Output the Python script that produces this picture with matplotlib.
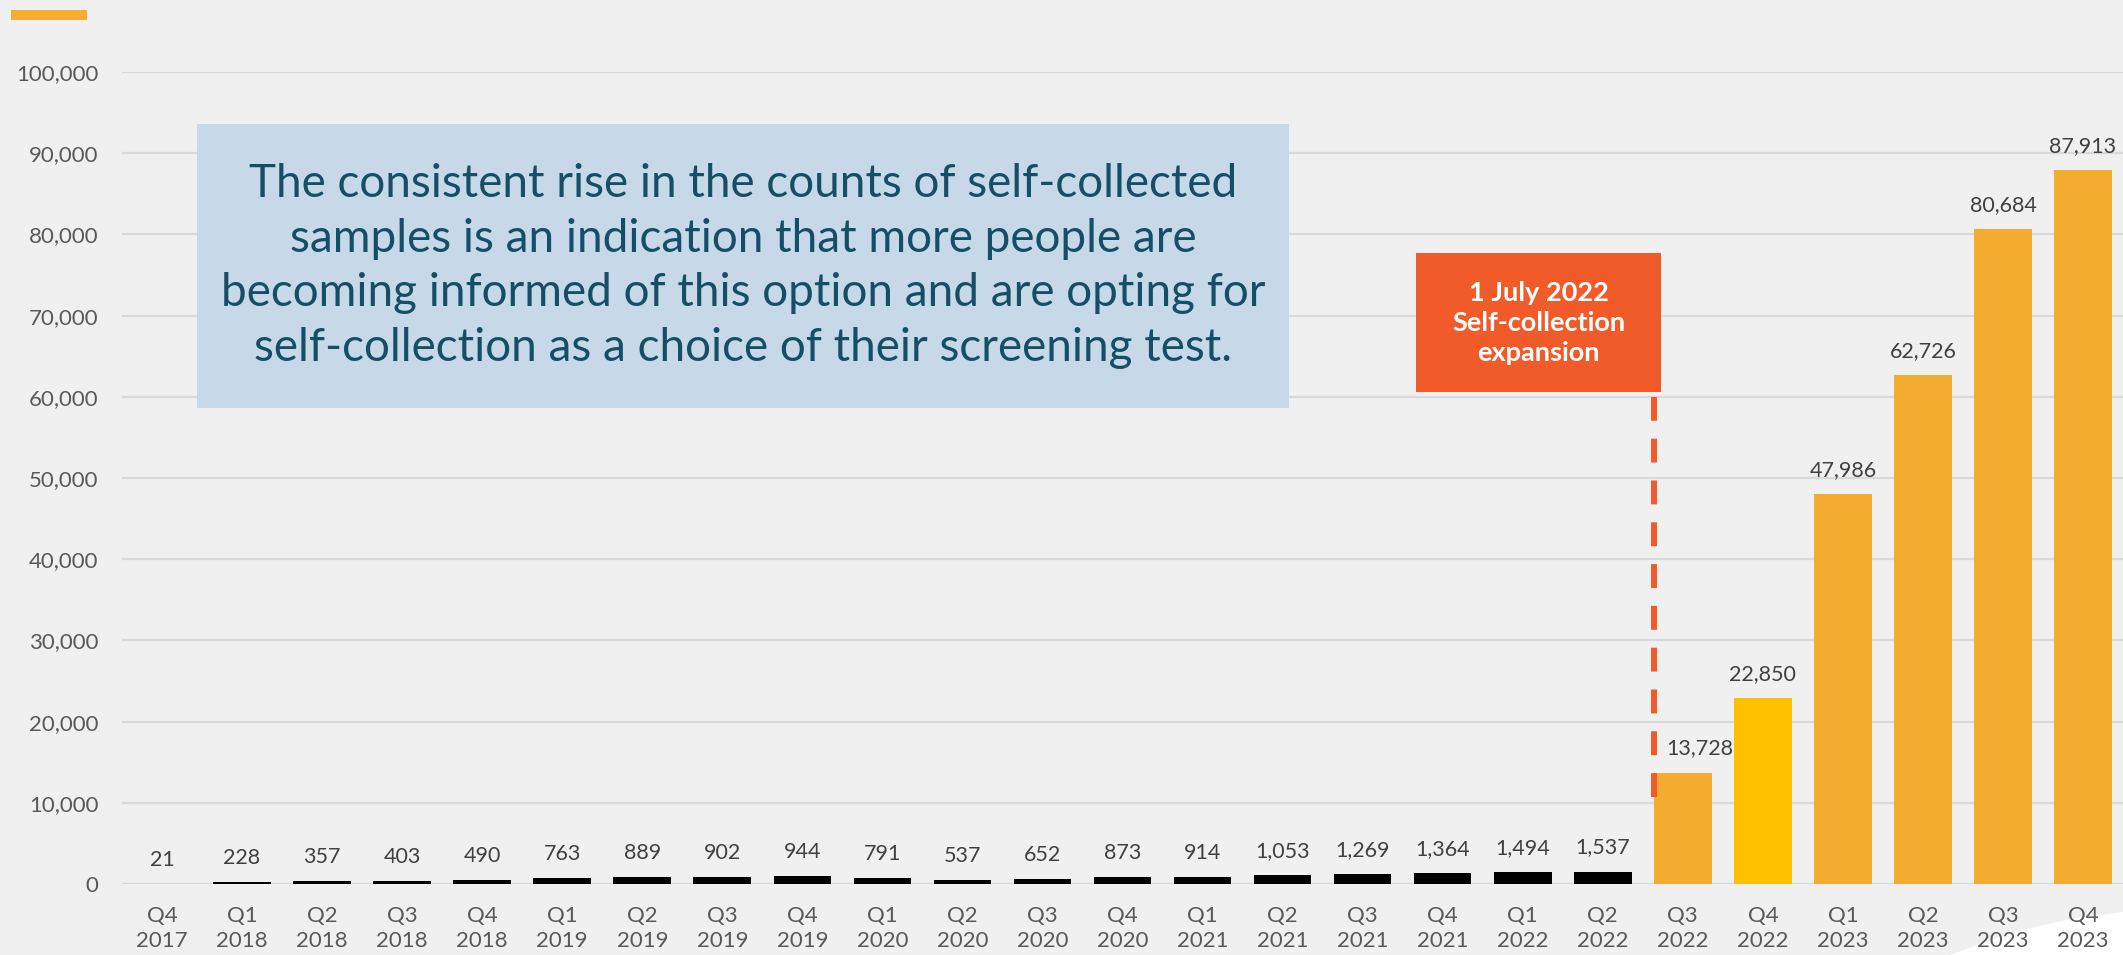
"""Self-collected samples per quarter, Q4 2017 - Q4 2023."""

import matplotlib
matplotlib.use("Agg")
import matplotlib.pyplot as plt
from matplotlib.patches import Rectangle, Polygon

plt.rcParams["font.family"] = ["Lato", "DejaVu Sans"]

quarters = ["Q4", "Q1", "Q2", "Q3", "Q4", "Q1", "Q2", "Q3", "Q4", "Q1", "Q2", "Q3", "Q4",
            "Q1", "Q2", "Q3", "Q4", "Q1", "Q2", "Q3", "Q4", "Q1", "Q2", "Q3", "Q4"]
years = ["2017"] + ["2018"] * 4 + ["2019"] * 4 + ["2020"] * 4 + ["2021"] * 4 + ["2022"] * 4 + ["2023"] * 4
counts = [21, 228, 357, 403, 490, 763, 889, 902, 944, 791, 537, 652, 873,
          914, 1053, 1269, 1364, 1494, 1537, 13728, 22850, 47986, 62726, 80684, 87913]
bar_colors = ["#000000"] * 19 + ["#F3AC2F", "#FFC000", "#F3AC2F", "#F3AC2F", "#F3AC2F", "#F3AC2F"]

note_text = ("The consistent rise in the counts of self-collected\n"
             "samples is an indication that more people are\n"
             "becoming informed of this option and are opting for\n"
             "self-collection as a choice of their screening test.")
event_text = "1 July 2022\nSelf-collection\nexpansion"

BG = "#F0F0F0"
W, H = 2123, 955

fig = plt.figure(figsize=(W / 100, H / 100), dpi=100, facecolor=BG)
ax = fig.add_axes([122 / W, (H - 884) / H, 1 - 122 / W, (884 - 72) / H])
ax.patch.set_visible(False)

x = list(range(len(counts)))
ax.bar(x, counts, width=0.72, color=bar_colors, zorder=2)

for xi, v in zip(x, counts):
    dx = 12 if xi == 19 else 0  # first post-expansion label sits clear of the dashed line
    ax.annotate(f"{v:,}", (xi, v), xytext=(dx, 13), textcoords="offset points",
                ha="center", va="baseline", fontsize=15.5, color="#404040", zorder=4)

ax.set_xlim(-0.5, len(counts) - 0.5)
ax.set_ylim(0, 100000)
ax.set_yticks(range(0, 100001, 10000))
ax.set_yticklabels([f"{t:,}" for t in range(0, 100001, 10000)])
ax.set_xticks(x)
ax.set_xticklabels([f"{q}\n{y}" for q, y in zip(quarters, years)], linespacing=1.3)
ax.tick_params(axis="both", length=0, labelsize=16, labelcolor="#595959")
ax.tick_params(axis="x", pad=16)
ax.tick_params(axis="y", pad=17)
ax.grid(axis="y", color="#D9D9D9", linewidth=1.6, zorder=0)
ax.set_axisbelow(True)
for s in ax.spines.values():
    s.set_visible(False)

# event marker
ax.plot([18.64, 18.64], [10700, 60000], color="#F15A29", linewidth=4.3,
        linestyle=(0, (4, 3)), zorder=3, solid_capstyle="butt")
ax.add_patch(Rectangle((15.67, 60600), 18.73 - 15.67, 77700 - 60600,
                       facecolor="#F15A29", edgecolor="none", zorder=5))
ax.text((15.67 + 18.73) / 2, (60600 + 77700) / 2, event_text, ha="center", va="center",
        color="white", fontsize=19.5, fontweight="bold", linespacing=1.3, zorder=6)

# note box
ax.add_patch(Rectangle((0.44, 58600), 14.08 - 0.44, 93600 - 58600,
                       facecolor="#C7D9E8", edgecolor="none", zorder=5))
ax.text((0.44 + 14.08) / 2, (58600 + 93600) / 2, note_text, ha="center", va="center",
        color="#154F66", fontsize=33, linespacing=1.37, zorder=6)

# decorations
fig.patches.append(Rectangle((11 / W, 1 - 20 / H), 76 / W, 10 / H, transform=fig.transFigure,
                             facecolor="#F7AE2E", edgecolor="none"))
fig.patches.append(Polygon([(1950 / W, 0), (2010 / W, 22 / H), (2070 / W, 36 / H),
                            (1, 43 / H), (1, 0)], closed=True, transform=fig.transFigure,
                           facecolor="white", edgecolor="none", zorder=-1))

fig.savefig("out.png", dpi=100, facecolor=BG)
